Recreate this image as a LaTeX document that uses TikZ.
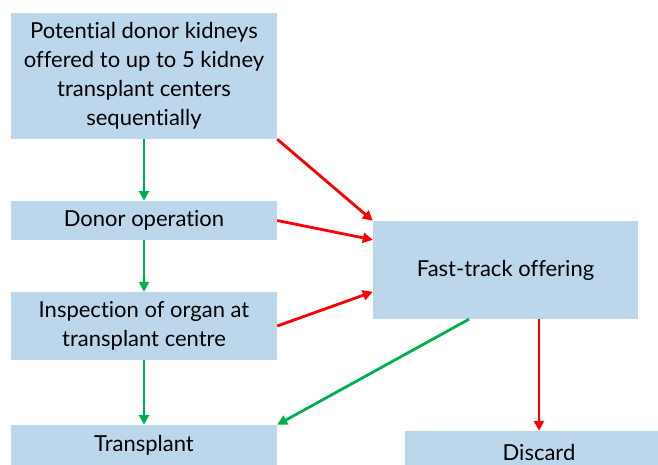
\documentclass[tikz,border=0pt]{standalone}
\usepackage{fontspec}
\setmainfont{Lato}[Ligatures={NoCommon,NoRare}]
\usetikzlibrary{arrows.meta}
\definecolor{boxblue}{RGB}{188,215,236}
\definecolor{yesgreen}{RGB}{0,176,80}
\definecolor{nored}{RGB}{255,0,0}
\begin{document}
\begin{tikzpicture}
    [x=1pt, y=-1pt,
    stage/.style={fill=boxblue, draw=none, inner sep=0pt, align=center,
      minimum width=266pt, font=\fontsize{22}{29}\selectfont},
    yes/.style={draw=yesgreen, line width=2.8pt, -{Triangle[length=10pt, width=10pt]}},
    no/.style={draw=nored, line width=2.8pt, -{Triangle[length=10pt, width=10pt]}}]
    \useasboundingbox (0,0) rectangle (658,464);
    \node[stage, minimum height=126pt] (potential) at (144,76)
      {Potential donor kidneys\\ offered to up to 5 kidney\\ transplant centers\\ sequentially};
    \node[stage, minimum height=39pt] (donor) at (144,220.5) {Donor operation};
    \node[stage, minimum height=68pt] (inspect) at (144,326)
      {Inspection of organ at\\ transplant centre};
    \node[stage, minimum height=40pt] (transplant) at (144,445) {Transplant};
    \node[stage, minimum width=265pt, minimum height=98pt] (fasttrack) at (505.5,270)
      {Fast-track offering};
    \node[stage, minimum width=268pt, minimum height=42pt] (discard) at (539,452) {Discard};
    % accepted
    \draw[yes] (potential) -- (donor);
    \draw[yes] (donor) -- (inspect);
    \draw[yes] (inspect) -- (transplant);
    \draw[yes] ([xshift=-36.5pt]fasttrack.south) -- (transplant.north east);
    % declined
    \draw[no] (potential.south east) -- (fasttrack.north west);
    \draw[no] (donor.east) -- ([yshift=-19pt]fasttrack.north west);
    \draw[no] (inspect.east) -- ([yshift=-71pt]fasttrack.north west);
    \draw[no] ([xshift=33.5pt]fasttrack.south) -- (discard.north);
\end{tikzpicture}
\end{document}
